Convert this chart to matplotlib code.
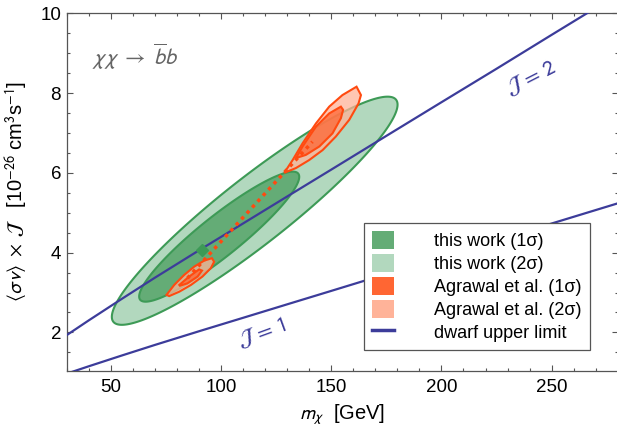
import numpy as np
import matplotlib
matplotlib.use("Agg")
import matplotlib.pyplot as plt
from matplotlib.patches import Patch
from matplotlib.lines import Line2D
from matplotlib.ticker import MultipleLocator

plt.rcParams["font.family"] = ["Liberation Sans", "DejaVu Sans"]
plt.rcParams["mathtext.fontset"] = "stixsans"
plt.rcParams["font.size"] = 13.5

# dwarf upper limit for J = 1, the plotted curves are limit * J
dwarf_mass = [30, 40, 55, 70, 91, 110, 131, 150, 176, 200, 225, 250, 266, 285]
dwarf_limit = [0.965, 1.15, 1.42, 1.685, 2.045, 2.365, 2.72, 3.04, 3.48, 3.885, 4.305, 4.73, 5.0, 5.32]
j_values = [1, 2]

# this work: contours (centre, half extent in m and in sv, correlation)
tw1_center, tw1_half, tw1_rho = (99.2, 4.40), (36.3, 1.63), 0.92
tw2_center, tw2_half, tw2_rho = (115.3, 5.05), (64.8, 2.86), 0.93
tw_best = (91.6, 4.07)

# Agrawal et al. contours, two islands
ag_up_2s_x = [128.7, 132.5, 137.0, 143.1, 149.1, 155.1, 161.5, 163.5, 162.4, 158.2, 152.1, 146.1, 140.0, 134.0]
ag_up_2s_y = [6.00, 6.32, 6.74, 7.24, 7.66, 7.95, 8.16, 7.95, 7.74, 7.33, 6.91, 6.57, 6.32, 6.12]
ag_up_1s_x = [134.0, 137.0, 143.1, 149.1, 154.4, 155.4, 154.4, 150.6, 144.6, 138.5]
ag_up_1s_y = [6.37, 6.66, 7.16, 7.49, 7.66, 7.58, 7.37, 6.99, 6.66, 6.45]
ag_lo_2s_x = [75.3, 78.8, 83.3, 87.9, 92.4, 95.9, 96.9, 95.4, 91.6, 86.4, 81.1, 76.5]
ag_lo_2s_y = [2.94, 3.19, 3.44, 3.65, 3.80, 3.86, 3.77, 3.61, 3.40, 3.19, 3.02, 2.91]
ag_lo_1s_x = [81.1, 85.6, 90.1, 91.4, 89.4, 84.8, 81.4]
ag_lo_1s_y = [3.19, 3.40, 3.58, 3.55, 3.40, 3.23, 3.17]
ag_path_x = [84.8, 141.5]
ag_path_y = [3.36, 6.78]

legend_labels = ["this work (1σ)", "this work (2σ)",
                 "Agrawal et al. (1σ)", "Agrawal et al. (2σ)",
                 "dwarf upper limit"]

GREEN1 = "#64ac76"
GREEN2 = "#b2d8be"
GREEN_EDGE = "#3d9a56"
ORANGE1 = "#ff6633"
ORANGE2 = "#ffb399"
ORANGE_EDGE = "#ff4a10"
BLUE = "#3c3c9a"


def ellipse(center, half, rho, n=300):
    t = np.linspace(0, 2 * np.pi, n)
    x = center[0] + half[0] * np.cos(t)
    y = center[1] + half[1] * (rho * np.cos(t) + np.sqrt(1 - rho ** 2) * np.sin(t))
    return x, y


fig = plt.figure(figsize=(6.17, 4.36), dpi=100)
ax = fig.add_axes([0.108, 0.1498, 0.8933, 0.8197])

# this work
x, y = ellipse(tw2_center, tw2_half, tw2_rho)
ax.fill(x, y, fc=GREEN2, ec=GREEN_EDGE, lw=1.5, zorder=1)
x, y = ellipse(tw1_center, tw1_half, tw1_rho)
ax.fill(x, y, fc=GREEN1, ec=GREEN_EDGE, lw=1.5, zorder=2)

# dwarf limits
for j in j_values:
    ax.plot(dwarf_mass, np.array(dwarf_limit) * j, color=BLUE, lw=1.6, zorder=3)

ax.plot(*tw_best, marker="D", ms=6, color=GREEN_EDGE, zorder=4)

# Agrawal et al.
for xs, ys in [(ag_up_2s_x, ag_up_2s_y), (ag_lo_2s_x, ag_lo_2s_y)]:
    ax.fill(xs, ys, fc=ORANGE2, alpha=0.75, ec="none", zorder=5)
    ax.fill(xs, ys, fc="none", ec=ORANGE_EDGE, lw=1.5, zorder=6)
for xs, ys in [(ag_up_1s_x, ag_up_1s_y), (ag_lo_1s_x, ag_lo_1s_y)]:
    ax.fill(xs, ys, fc=ORANGE1, alpha=0.75, ec="none", zorder=5)
    ax.fill(xs, ys, fc="none", ec=ORANGE_EDGE, lw=1.5, zorder=6)
ax.plot(ag_path_x, ag_path_y, color=ORANGE_EDGE, lw=2.5, ls=(0, (1, 1.3)), zorder=7)

ax.text(41.5, 8.7, r"$\chi\chi\;\rightarrow\;\overline{b}b$", color="#666666", fontsize=16)
ax.text(240.6, 8.37, r"$\mathcal{J}\,=\,2$", color=BLUE, fontsize=16, rotation=27,
        ha="center", va="center")
ax.text(118.8, 1.98, r"$\mathcal{J}\,=\,1$", color=BLUE, fontsize=16, rotation=20,
        ha="center", va="center")

ax.set_xlim(30, 280)
ax.set_ylim(1.04, 10)
ax.xaxis.set_major_locator(MultipleLocator(50))
ax.xaxis.set_minor_locator(MultipleLocator(10))
ax.yaxis.set_major_locator(MultipleLocator(2))
ax.yaxis.set_minor_locator(MultipleLocator(0.5))
ax.tick_params(which="both", direction="in", top=True, right=True, color="#555555")
ax.tick_params(which="major", length=4.5, width=0.8)
ax.tick_params(which="minor", length=2.5, width=0.8)
ax.tick_params(axis="x", pad=6)
ax.tick_params(axis="y", pad=4)
for s in ax.spines.values():
    s.set_color("#555555")
    s.set_linewidth(0.9)

ax.set_xlabel(r"$m_\chi$  [GeV]", fontsize=14.5, labelpad=5)
ax.set_ylabel(r"$\langle\sigma v\rangle\;\times\;\mathcal{J}$   [10$^{-26}$ cm$^3$s$^{-1}$]",
              fontsize=14.5, labelpad=7)

handles = [
    Patch(fc=GREEN1, ec="none"),
    Patch(fc=GREEN2, ec="none"),
    Patch(fc=ORANGE1, ec="none"),
    Patch(fc=ORANGE2, ec="none"),
    Line2D([], [], color=BLUE, lw=2.5),
]
leg = ax.legend(handles, legend_labels, loc="lower left", bbox_to_anchor=(0.539, 0.058),
                fontsize=13, fancybox=False, edgecolor="#555555", framealpha=1,
                handlelength=1.25, handleheight=1.2, handletextpad=2.2,
                labelspacing=0.2, borderpad=0.45, borderaxespad=0)
leg.get_frame().set_linewidth(0.9)
leg.set_zorder(10)

fig.savefig("out.png", dpi=100)
